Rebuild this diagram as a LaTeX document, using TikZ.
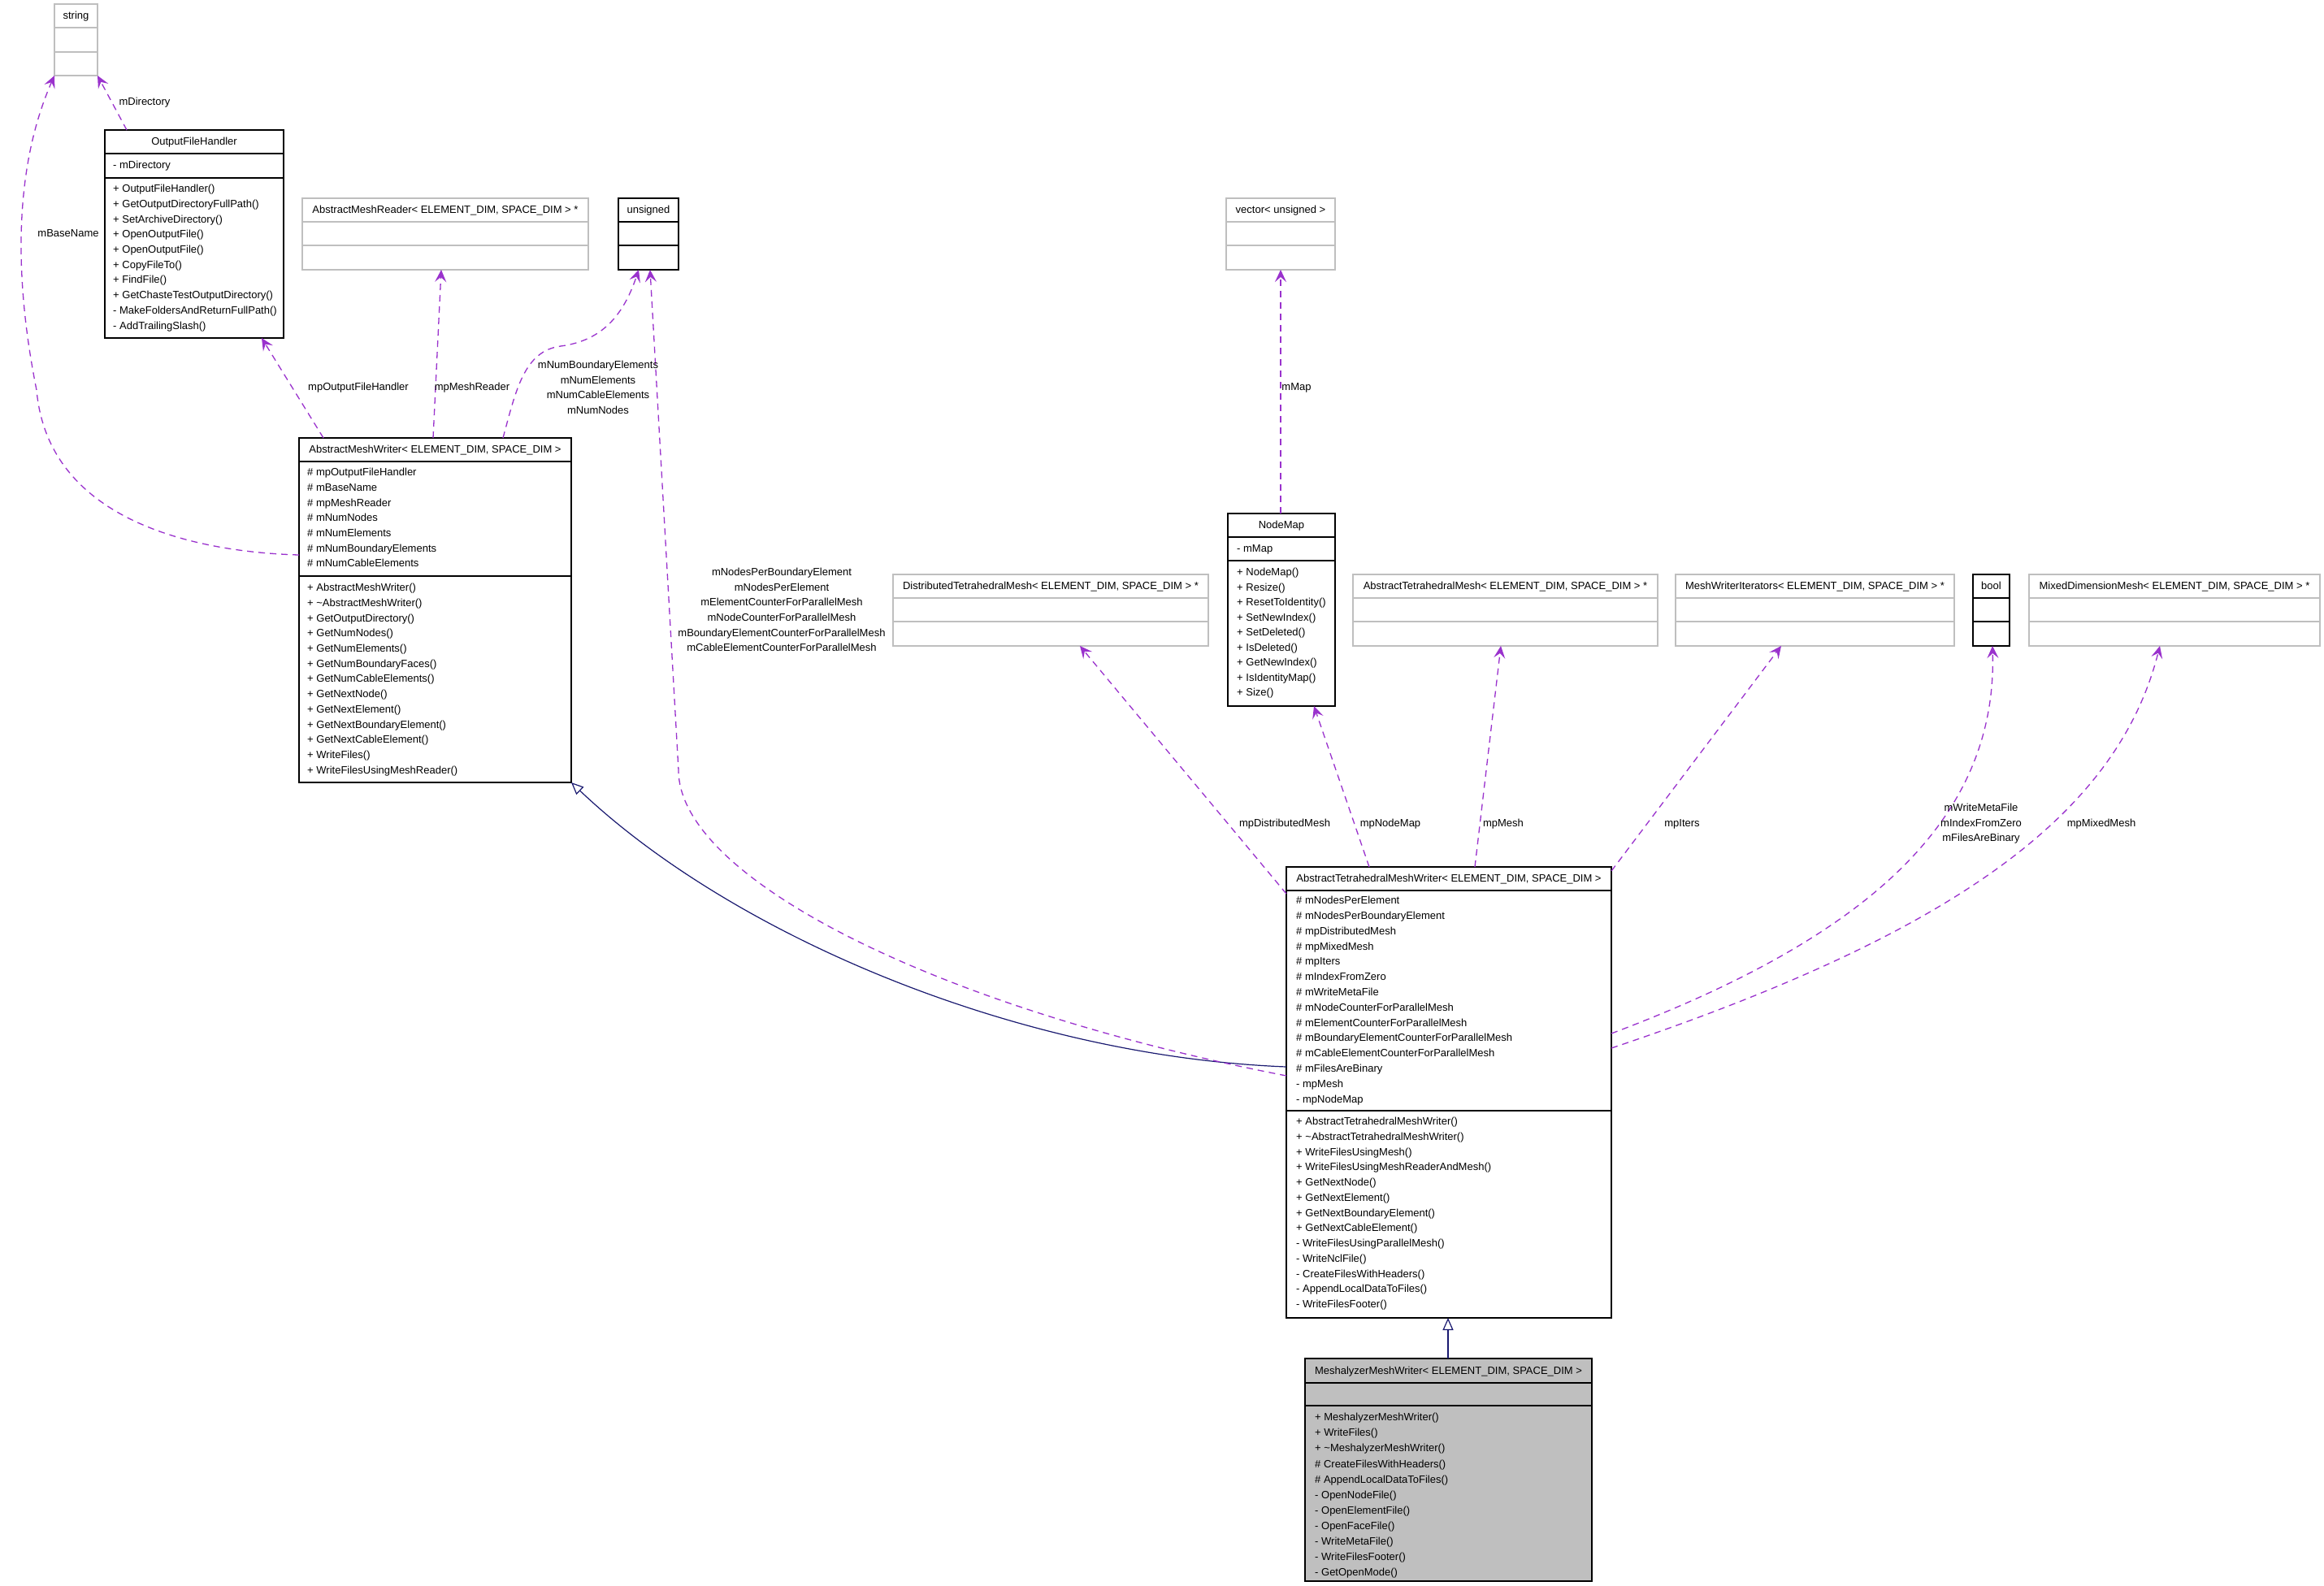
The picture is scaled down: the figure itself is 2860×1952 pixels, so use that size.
\documentclass[tikz,border=0pt]{standalone}
\usepackage{fontspec}
\setmainfont{Liberation Sans}
\usetikzlibrary{arrows.meta}
\definecolor{dorchid}{HTML}{9A32CD}
\definecolor{mblue}{HTML}{191970}
\definecolor{gseventyfive}{HTML}{BFBFBF}
\newcommand\umlbox[8]{%
  \node[#2, anchor=north west, minimum width={(#5)-(#3)}, minimum height={(#6)-(#4)}] (#1) at (#3,#4) {};
  \draw[#2 line] (#3,#7) -- (#5,#7) (#3,#8) -- (#5,#8);}
\newcommand\mems[4]{\foreach \t [count=\i from 0] in {#4}{\node[mem] at (#1,{#2+\i*#3}) {\t};}}
\begin{document}
\begin{tikzpicture}[x=1pt,y=-1pt,
  every node/.style={font=\fontsize{13}{18.6}\selectfont, inner sep=0pt},
  txt/.style={text height=9.4pt, text depth=0pt},
  mem/.style={txt, anchor=west},
  ttl/.style={txt, anchor=center},
  lbl/.style={txt, anchor=center},
  mlbl/.style={anchor=center, align=center},
  gbox/.style={draw=gseventyfive, line width=1.2pt, rectangle, outer sep=0pt},
  bbox/.style={draw=black, line width=1.3pt, rectangle, outer sep=0pt},
  fbox/.style={bbox, fill=gseventyfive},
  gbox line/.style={draw=gseventyfive, line width=1.2pt},
  bbox line/.style={draw=black, line width=1.3pt},
  fbox line/.style={bbox line},
  assoc/.style={draw=dorchid, line width=1.3pt, dash pattern=on 8pt off 6pt, -{Stealth[length=15pt,width=14pt,inset=6pt]}},
  inh/.style={draw=mblue, line width=1.2pt, -{Triangle[open,length=15pt,width=13pt,fill=white]}}
]
\useasboundingbox[fill=white] (0,0) rectangle (2860,1952);

% ---------- boxes ----------
\umlbox{string}{gbox}{67}{5}{120}{93}{34}{64}
\node[ttl] (tstring) at (93.5,19) {string};

\umlbox{ofh}{bbox}{129}{160}{349}{416}{189}{219}
\node[ttl] (tofh) at (239,174) {OutputFileHandler};
\node[mem] (aofh) at (139,203) {- mDirectory};
\mems{139}{232}{18.7}{+ OutputFileHandler(),+ GetOutputDirectoryFullPath(),+ SetArchiveDirectory(),+ OpenOutputFile(),+ OpenOutputFile(),+ CopyFileTo(),+ FindFile(),+ GetChasteTestOutputDirectory(),- MakeFoldersAndReturnFullPath(),- AddTrailingSlash()}

\umlbox{amr}{gbox}{372}{244}{724}{332}{273}{302}
\node[ttl] (tamr) at (548,258) {AbstractMeshReader< ELEMENT\_DIM, SPACE\_DIM > *};

\umlbox{uns}{bbox}{761}{244}{835}{332}{273}{302}
\node[ttl] (tuns) at (798,258) {unsigned};

\umlbox{vec}{gbox}{1509}{244}{1643}{332}{273}{302}
\node[ttl] (tvec) at (1576,258) {vector< unsigned >};

\umlbox{amw}{bbox}{368}{539}{703}{963}{568}{709}
\node[ttl] (tamw) at (535.5,553) {AbstractMeshWriter< ELEMENT\_DIM, SPACE\_DIM >};
\mems{378}{581}{18.7}{\# mpOutputFileHandler,\# mBaseName,\# mpMeshReader,\# mNumNodes,\# mNumElements,\# mNumBoundaryElements,\# mNumCableElements}
\mems{378}{723}{18.7}{+ AbstractMeshWriter(),+ \textasciitilde{}AbstractMeshWriter(),+ GetOutputDirectory(),+ GetNumNodes(),+ GetNumElements(),+ GetNumBoundaryFaces(),+ GetNumCableElements(),+ GetNextNode(),+ GetNextElement(),+ GetNextBoundaryElement(),+ GetNextCableElement(),+ WriteFiles(),+ WriteFilesUsingMeshReader()}

\umlbox{nmap}{bbox}{1511}{632}{1643}{869}{661}{690}
\node[ttl] (tnmap) at (1577,646) {NodeMap};
\node[mem] (anmap) at (1522,675) {- mMap};
\mems{1522}{704}{18.5}{+ NodeMap(),+ Resize(),+ ResetToIdentity(),+ SetNewIndex(),+ SetDeleted(),+ IsDeleted(),+ GetNewIndex(),+ IsIdentityMap(),+ Size()}

\umlbox{dtm}{gbox}{1099}{707}{1487}{795}{736}{765}
\node[ttl] (tdtm) at (1293,721) {DistributedTetrahedralMesh< ELEMENT\_DIM, SPACE\_DIM > *};

\umlbox{atm}{gbox}{1665}{707}{2040}{795}{736}{765}
\node[ttl] (tatm) at (1852.5,721) {AbstractTetrahedralMesh< ELEMENT\_DIM, SPACE\_DIM > *};

\umlbox{mwi}{gbox}{2062}{707}{2405}{795}{736}{765}
\node[ttl] (tmwi) at (2233.5,721) {MeshWriterIterators< ELEMENT\_DIM, SPACE\_DIM > *};

\umlbox{bool}{bbox}{2428}{707}{2473}{795}{736}{765}
\node[ttl] (tbool) at (2450.5,721) {bool};

\umlbox{mdm}{gbox}{2497}{707}{2855}{795}{736}{765}
\node[ttl] (tmdm) at (2676,721) {MixedDimensionMesh< ELEMENT\_DIM, SPACE\_DIM > *};

\umlbox{atmw}{bbox}{1583}{1067}{1983}{1622}{1096}{1367}
\node[ttl] (tatmw) at (1783,1081) {AbstractTetrahedralMeshWriter< ELEMENT\_DIM, SPACE\_DIM >};
\mems{1595}{1108}{18.8}{\# mNodesPerElement,\# mNodesPerBoundaryElement,\# mpDistributedMesh,\# mpMixedMesh,\# mpIters,\# mIndexFromZero,\# mWriteMetaFile,\# mNodeCounterForParallelMesh,\# mElementCounterForParallelMesh,\# mBoundaryElementCounterForParallelMesh,\# mCableElementCounterForParallelMesh,\# mFilesAreBinary,- mpMesh,- mpNodeMap}
\mems{1595}{1380}{18.75}{+ AbstractTetrahedralMeshWriter(),+ \textasciitilde{}AbstractTetrahedralMeshWriter(),+ WriteFilesUsingMesh(),+ WriteFilesUsingMeshReaderAndMesh(),+ GetNextNode(),+ GetNextElement(),+ GetNextBoundaryElement(),+ GetNextCableElement(),- WriteFilesUsingParallelMesh(),- WriteNclFile(),- CreateFilesWithHeaders(),- AppendLocalDataToFiles(),- WriteFilesFooter()}

\umlbox{msh}{fbox}{1606}{1672}{1959}{1946}{1702}{1730}
\node[ttl] (tmsh) at (1782.5,1687) {MeshalyzerMeshWriter< ELEMENT\_DIM, SPACE\_DIM >};
\mems{1618}{1744}{19.1}{+ MeshalyzerMeshWriter(),+ WriteFiles(),+ \textasciitilde{}MeshalyzerMeshWriter(),\# CreateFilesWithHeaders(),\# AppendLocalDataToFiles(),- OpenNodeFile(),- OpenElementFile(),- OpenFaceFile(),- WriteMetaFile(),- WriteFilesFooter(),- GetOpenMode()}

% ---------- inheritance ----------
\draw[inh] (msh.north -| 1782,0) -- (atmw.south -| 1782,0);
\draw[inh] (atmw.west |- 0,1313) .. controls (1250,1300) and (900,1150) .. (amw.south east);

% ---------- associations ----------
\draw[assoc] (ofh.north -| 156,0) -- (string.south east);
\draw[assoc] (amw.west |- 0,683) .. controls (260,680) and (60,650) .. (45,480) .. controls (15,330) and (20,200) .. (string.south west);
\draw[assoc] (amw.north -| 398,0) -- (ofh.south -| 322,0);
\draw[assoc] (amw.north -| 533,0) -- (amr.south -| 543,0);
\draw[assoc] (amw.north -| 619,0) .. controls (635,480) and (645,432) .. (690,426) .. controls (735,420) and (765,395) .. (uns.south -| 786,0);
\draw[assoc] (atmw.west |- 0,1324) .. controls (1150,1240) and (835,1080) .. (835,948) -- (uns.south -| 800,0);
\draw[assoc] (nmap.north -| 1576,0) -- (vec.south -| 1576,0);
\draw[assoc] (atmw.west |- 0,1100) -- (dtm.south -| 1329,0);
\draw[assoc] (atmw.north -| 1685,0) -- (nmap.south -| 1617,0);
\draw[assoc] (atmw.north -| 1815,0) -- (atm.south -| 1847,0);
\draw[assoc] (atmw.east |- 0,1072) -- (mwi.south -| 2192,0);
\draw[assoc] (atmw.east |- 0,1272) .. controls (2280,1160) and (2458,1020) .. (bool.south -| 2452,0);
\draw[assoc] (atmw.east |- 0,1290) .. controls (2400,1150) and (2605,1005) .. (mdm.south -| 2658,0);

% ---------- labels ----------
\node[lbl] (lmdir) at (178,125) {mDirectory};
\node[lbl] (lmbase) at (84,287) {mBaseName};
\node[lbl] (lofh) at (441,476) {mpOutputFileHandler};
\node[lbl] (lamr) at (581,476) {mpMeshReader};
\node[mlbl] (luns) at (736,477) {mNumBoundaryElements\\mNumElements\\mNumCableElements\\mNumNodes};
\node[mlbl] (luns2) at (962,750.5) {mNodesPerBoundaryElement\\mNodesPerElement\\mElementCounterForParallelMesh\\mNodeCounterForParallelMesh\\mBoundaryElementCounterForParallelMesh\\mCableElementCounterForParallelMesh};
\node[lbl] (lmap) at (1595.5,476) {mMap};
\node[lbl] (ldtm) at (1581,1013) {mpDistributedMesh};
\node[lbl] (lnmap) at (1711,1013) {mpNodeMap};
\node[lbl] (lmesh) at (1850,1013) {mpMesh};
\node[lbl] (liters) at (2070,1013) {mpIters};
\node[mlbl] (lbool) at (2438,1014) {mWriteMetaFile\\mIndexFromZero\\mFilesAreBinary};
\node[lbl] (lmdm) at (2586,1013) {mpMixedMesh};
\end{tikzpicture}
\end{document}
